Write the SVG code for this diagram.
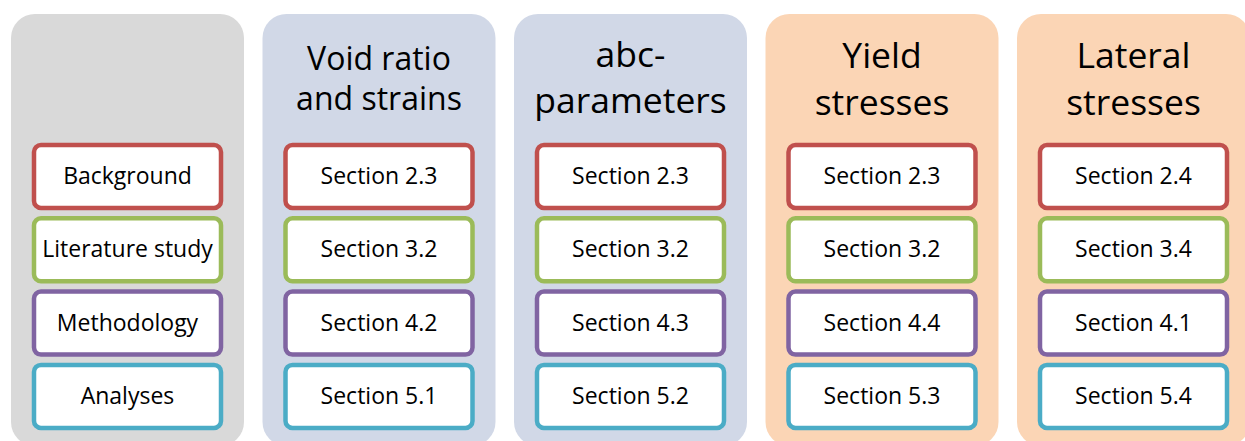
<svg xmlns="http://www.w3.org/2000/svg" width="1245" height="441" viewBox="0 0 1245 441">
<style>
.col{stroke:none}
.gray{fill:#d9d9d9}
.blue{fill:#d1d8e7}
.peach{fill:#fbd5b5}
.box{fill:#ffffff;stroke-width:4.5}
.r{stroke:#c0504d}
.g{stroke:#9bbb59}
.p{stroke:#8064a2}
.c{stroke:#4bacc6}
.t{font-family:"Open Sans","Liberation Sans",sans-serif;font-size:23px;fill:#000;text-anchor:middle}
.h1{font-family:"Open Sans","Liberation Sans",sans-serif;font-size:32px;fill:#000;text-anchor:middle}
.h2{font-family:"Open Sans","Liberation Sans",sans-serif;font-size:35.5px;fill:#000;text-anchor:middle}
</style>
<rect width="1245" height="441" fill="#ffffff"/>
<g id="connectors"></g>
<g id="col-labels">
<rect class="col gray" x="11" y="14" width="233" height="432" rx="24"/>
<rect class="box r" x="34" y="145" width="187" height="63" rx="7"/>
<text class="t" x="127.5" y="184">Background</text>
<rect class="box g" x="34" y="218.3" width="187" height="63" rx="7"/>
<text class="t" x="127.5" y="257.3">Literature study</text>
<rect class="box p" x="34" y="291.6" width="187" height="63" rx="7"/>
<text class="t" x="127.5" y="330.6">Methodology</text>
<rect class="box c" x="34" y="364.9" width="187" height="63" rx="7"/>
<text class="t" x="127.5" y="403.9">Analyses</text>
</g>
<g id="col-void">
<rect class="col blue" x="262.5" y="14" width="233" height="432" rx="24"/>
<text class="h1" x="379" y="70">Void ratio</text>
<text class="h1" x="379" y="110">and strains</text>
<rect class="box r" x="285.5" y="145" width="187" height="63" rx="7"/>
<text class="t" x="379" y="184">Section 2.3</text>
<rect class="box g" x="285.5" y="218.3" width="187" height="63" rx="7"/>
<text class="t" x="379" y="257.3">Section 3.2</text>
<rect class="box p" x="285.5" y="291.6" width="187" height="63" rx="7"/>
<text class="t" x="379" y="330.6">Section 4.2</text>
<rect class="box c" x="285.5" y="364.9" width="187" height="63" rx="7"/>
<text class="t" x="379" y="403.9">Section 5.1</text>
</g>
<g id="col-abc">
<rect class="col blue" x="514" y="14" width="233" height="432" rx="24"/>
<text class="h2" x="630.5" y="67">abc-</text>
<text class="h2" x="630.5" y="113">parameters</text>
<rect class="box r" x="537" y="145" width="187" height="63" rx="7"/>
<text class="t" x="630.5" y="184">Section 2.3</text>
<rect class="box g" x="537" y="218.3" width="187" height="63" rx="7"/>
<text class="t" x="630.5" y="257.3">Section 3.2</text>
<rect class="box p" x="537" y="291.6" width="187" height="63" rx="7"/>
<text class="t" x="630.5" y="330.6">Section 4.3</text>
<rect class="box c" x="537" y="364.9" width="187" height="63" rx="7"/>
<text class="t" x="630.5" y="403.9">Section 5.2</text>
</g>
<g id="col-yield">
<rect class="col peach" x="765.5" y="14" width="233" height="432" rx="24"/>
<text class="h2" x="882" y="68">Yield</text>
<text class="h2" x="882" y="115">stresses</text>
<rect class="box r" x="788.5" y="145" width="187" height="63" rx="7"/>
<text class="t" x="882" y="184">Section 2.3</text>
<rect class="box g" x="788.5" y="218.3" width="187" height="63" rx="7"/>
<text class="t" x="882" y="257.3">Section 3.2</text>
<rect class="box p" x="788.5" y="291.6" width="187" height="63" rx="7"/>
<text class="t" x="882" y="330.6">Section 4.4</text>
<rect class="box c" x="788.5" y="364.9" width="187" height="63" rx="7"/>
<text class="t" x="882" y="403.9">Section 5.3</text>
</g>
<g id="col-lateral">
<rect class="col peach" x="1017" y="14" width="233" height="432" rx="24"/>
<text class="h2" x="1133.5" y="68">Lateral</text>
<text class="h2" x="1133.5" y="115">stresses</text>
<rect class="box r" x="1040" y="145" width="187" height="63" rx="7"/>
<text class="t" x="1133.5" y="184">Section 2.4</text>
<rect class="box g" x="1040" y="218.3" width="187" height="63" rx="7"/>
<text class="t" x="1133.5" y="257.3">Section 3.4</text>
<rect class="box p" x="1040" y="291.6" width="187" height="63" rx="7"/>
<text class="t" x="1133.5" y="330.6">Section 4.1</text>
<rect class="box c" x="1040" y="364.9" width="187" height="63" rx="7"/>
<text class="t" x="1133.5" y="403.9">Section 5.4</text>
</g>
</svg>
